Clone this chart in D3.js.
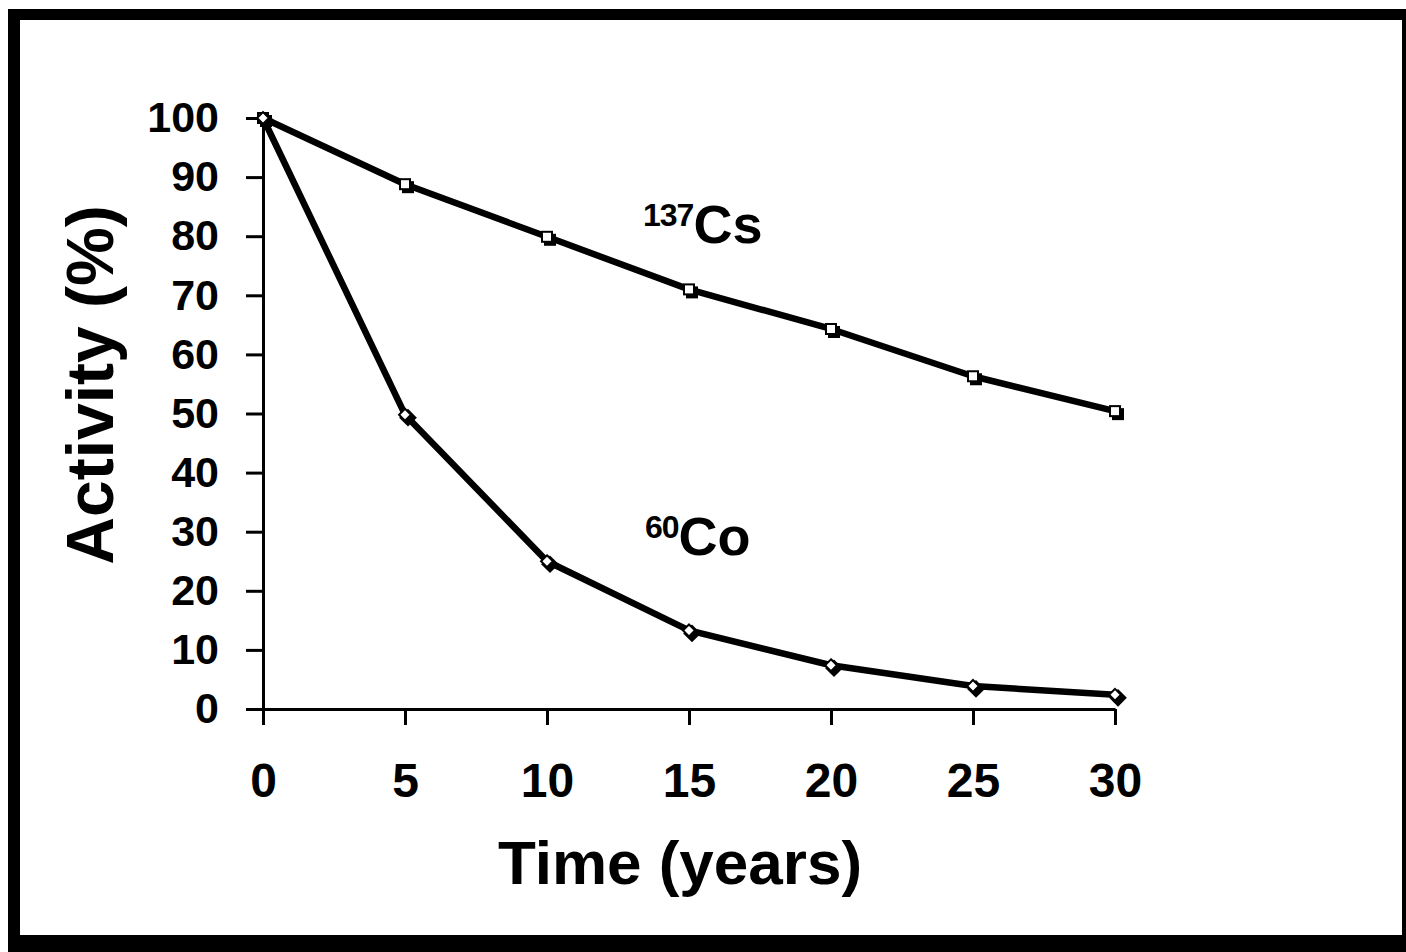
<!DOCTYPE html>
<html>
<head>
<meta charset="utf-8">
<script src="https://cdn.jsdelivr.net/npm/d3@7"></script>
<style>
  body { margin: 0; background: #fff; }
  text { font-family: "Liberation Sans", Arial, sans-serif; font-weight: bold; fill: #000; }
</style>
</head>
<body>
<svg id="chart"></svg>
<script>
// data
const years = [0, 5, 10, 15, 20, 25, 30];
const cs137 = [100, 88.8, 79.9, 71.0, 64.3, 56.3, 50.4];
const co60 = [100, 49.8, 25.0, 13.3, 7.4, 3.9, 2.4];
const yTicks = [0, 10, 20, 30, 40, 50, 60, 70, 80, 90, 100];
const xTicks = [0, 5, 10, 15, 20, 25, 30];

const width = 1406;
const height = 952;

const svg = d3.select("#chart")
    .attr("width", width)
    .attr("height", height);

// frame
svg.append("rect").attr("x", 0).attr("y", 0).attr("width", width).attr("height", height).attr("fill", "#fff");
svg.append("rect").attr("x", 8).attr("y", 9).attr("width", 1398).attr("height", 11).attr("fill", "#000");
svg.append("rect").attr("x", 8).attr("y", 9).attr("width", 12).attr("height", 943).attr("fill", "#000");
svg.append("rect").attr("x", 1402).attr("y", 9).attr("width", 4).attr("height", 943).attr("fill", "#000");
svg.append("rect").attr("x", 8).attr("y", 935).attr("width", 1398).attr("height", 17).attr("fill", "#000");

const xScale = d3.scaleLinear().domain([0, 30]).range([263, 1115]);
const yScale = d3.scaleLinear().domain([0, 100]).range([709, 118]);

// axes
const xAxis = d3.axisBottom(xScale).tickValues(xTicks).tickSize(16).tickSizeOuter(0).tickPadding(38);
const gx = svg.append("g").attr("transform", "translate(0," + yScale(0) + ")").call(xAxis);
gx.select(".domain").attr("stroke-width", 3);
gx.selectAll(".tick line").attr("stroke-width", 3);
gx.selectAll(".tick text").style("font-size", "48px").attr("fill", "#000");

const yAxis = d3.axisLeft(yScale).tickValues(yTicks).tickSize(17).tickSizeOuter(0).tickPadding(27);
const gy = svg.append("g").attr("transform", "translate(" + xScale(0) + ",0)").call(yAxis);
gy.select(".domain").attr("stroke-width", 3);
gy.selectAll(".tick line").attr("stroke-width", 3);
gy.selectAll(".tick text").style("font-size", "43px").attr("fill", "#000");

// lines
const line = d3.line()
    .x((d, i) => xScale(years[i]))
    .y(d => yScale(d));

[cs137, co60].forEach(series => {
    svg.append("path")
        .datum(series)
        .attr("d", line)
        .attr("fill", "none")
        .attr("stroke", "#000")
        .attr("stroke-width", 6.5)
        .attr("stroke-linejoin", "round");
});

// Cs markers: shadow + open square
svg.selectAll(".cs-shadow")
    .data(cs137)
    .enter()
    .append("rect")
    .attr("x", (d, i) => xScale(years[i]) - 3)
    .attr("y", d => yScale(d) - 3)
    .attr("width", 12)
    .attr("height", 12)
    .attr("fill", "#000");

svg.selectAll(".cs-mark")
    .data(cs137)
    .enter()
    .append("rect")
    .attr("x", (d, i) => xScale(years[i]) - 5)
    .attr("y", d => yScale(d) - 5)
    .attr("width", 10)
    .attr("height", 10)
    .attr("fill", "#fff")
    .attr("stroke", "#000")
    .attr("stroke-width", 2);

// Co markers: shadow + open diamond
const diamond = d3.symbol().type(d3.symbolDiamond2);
svg.selectAll(".co-shadow")
    .data(co60)
    .enter()
    .append("path")
    .attr("d", diamond.size(200)())
    .attr("transform", (d, i) => "translate(" + (xScale(years[i]) + 3) + "," + (yScale(d) + 3) + ")")
    .attr("fill", "#000");

svg.selectAll(".co-mark")
    .data(co60)
    .enter()
    .append("path")
    .attr("d", d3.symbol().type(d3.symbolDiamond2).size(90)())
    .attr("transform", (d, i) => "translate(" + xScale(years[i]) + "," + yScale(d) + ")")
    .attr("fill", "#fff")
    .attr("stroke", "#000")
    .attr("stroke-width", 2);

// series labels
const csLabel = svg.append("text").attr("x", 643).attr("y", 243);
csLabel.append("tspan").style("font-size", "32px").style("letter-spacing", "-1px").attr("dy", -17).text("137");
csLabel.append("tspan").style("font-size", "54px").attr("dy", 17).text("Cs");

const coLabel = svg.append("text").attr("x", 645).attr("y", 555);
coLabel.append("tspan").style("font-size", "32px").style("letter-spacing", "-1px").attr("dy", -17).text("60");
coLabel.append("tspan").style("font-size", "54px").attr("dy", 17).text("Co");

// axis titles
svg.append("text")
    .attr("x", 680)
    .attr("y", 884)
    .style("text-anchor", "middle")
    .style("font-size", "62px")
    .text("Time (years)");

svg.append("text")
    .attr("transform", "translate(113,385) rotate(-90)")
    .style("text-anchor", "middle")
    .style("font-size", "66px")
    .text("Activity (%)");
</script>
</body>
</html>
